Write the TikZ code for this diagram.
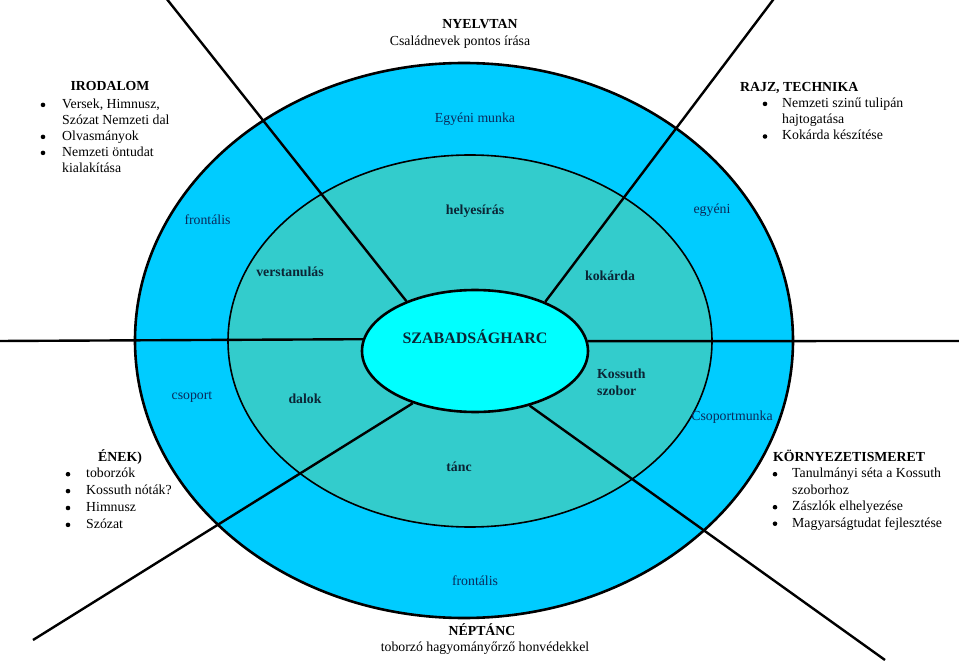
\documentclass[tikz,border=0pt]{standalone}
\usepackage{fontspec}
\setmainfont{Liberation Serif}
\usetikzlibrary{shapes.geometric}
\definecolor{outerblue}{HTML}{00CCFF}
\definecolor{midteal}{HTML}{33CCCC}
\definecolor{innercyan}{HTML}{00FFFF}
\definecolor{ringtext}{HTML}{0A2A5A}
\definecolor{boldtext}{HTML}{0B2535}
\tikzset{
  ringfill/.style={draw=black, line width=#1},
  sepline/.style={draw=black, line width=2.4pt},
  txt/.style={inner sep=0pt, anchor=base, font=\fontsize{13.8}{16}\selectfont},
  ringlbl/.style={txt, text=ringtext},
  boldlbl/.style={txt, text=boldtext, font=\fontsize{13.8}{16}\selectfont\bfseries},
  headlbl/.style={txt, font=\fontsize{13.8}{16}\selectfont\bfseries},
  listblk/.style={inner sep=0pt, anchor=base west},
  bulletdot/.style={fill=black}
}
\begin{document}
\begin{tikzpicture}[x=1pt,y=-1pt]
\useasboundingbox (0,0) rectangle (959,663);
% rings
\fill[outerblue] (464,340.5) ellipse [x radius=329, y radius=277.5];
\draw[ringfill=2.6pt] (464,340.5) ellipse [x radius=329, y radius=277.5];
\fill[midteal] (470,341) ellipse [x radius=242, y radius=186];
\draw[ringfill=1.6pt] (470,341) ellipse [x radius=242, y radius=186];
% centre
\node[ellipse, draw=black, line width=2.6pt, fill=innercyan, inner sep=0pt,
      minimum width=226pt, minimum height=122pt] (centre) at (475,351) {};
\node[txt, text=boldtext, font=\fontsize{16}{18}\selectfont\bfseries] (centrelbl) at (475,343.3) {SZABADSÁGHARC};
% separator end points
\coordinate (ptl) at (166,-2);
\coordinate (ptr) at (774.5,-2);
\coordinate (pbl) at (33,640);
\coordinate (pbr) at (885,660);
\coordinate (pl) at (-2,341);
\coordinate (pr) at (961,341);
\draw[sepline] (ptl) -- (centre.144.7);
\draw[sepline] (ptr) -- (centre.35.8);
\draw[sepline] (pbl) -- (centre.220.6);
\draw[sepline] (pbr) -- (centre.315);
\draw[sepline] (pl) -- (centre.174.9);
\draw[sepline] (pr) -- (centre.5.1);
% labels in outer ring
\node[ringlbl] (egyeni) at (475,122.3) {Egyéni munka};
\node[ringlbl] (frontl) at (207.5,225) {frontális};
\node[ringlbl] (egyr) at (712,214) {egyéni};
\node[ringlbl] (csop) at (192,399.3) {csoport};
\node[ringlbl] (csopm) at (732,420.7) {Csoportmunka};
\node[ringlbl] (frontb) at (475,585) {frontális};
% labels in middle ring
\node[boldlbl] (helyes) at (475,215) {helyesírás};
\node[boldlbl] (verst) at (290,276.7) {verstanulás};
\node[boldlbl] (kokard) at (610,281) {kokárda};
\node[boldlbl] (dalok) at (305,403.3) {dalok};
\node[boldlbl] (tanc) at (459,471.7) {tánc};
\node[boldlbl, anchor=base west] (kossuth) at (597,378.3)
  {\begin{tabular}[t]{@{}l@{}}Kossuth\\[0.7pt]szobor\end{tabular}};
% outside texts
\node[headlbl] (nyelv) at (480,28.5) {NYELVTAN};
\node[txt] (nyelvs) at (460,46) {Családnevek pontos írása};
\node[headlbl] (nept) at (482,635.7) {NÉPTÁNC};
\node[txt] (nepts) at (485,651.7) {toborzó hagyományőrző honvédekkel};
% IRODALOM
\node[headlbl] (irod) at (110,91) {IRODALOM};
\node[listblk, font=\fontsize{13.8}{16}\selectfont] (irodl) at (62,108.4)
  {\begin{tabular}[t]{@{}l@{}}
  Versek, Himnusz,\\
  Szózat Nemzeti dal\\
  Olvasmányok\\
  Nemzeti öntudat\\
  kialakítása
  \end{tabular}};
\foreach \yy in {104.9,136.9,152.9} \fill[bulletdot] (43,\yy) circle[radius=2.3pt];
% RAJZ
\node[headlbl, anchor=base west] (rajz) at (740,91.7) {RAJZ, TECHNIKA};
\node[listblk, font=\fontsize{13.8}{16.3}\selectfont] (rajzl) at (782,107.4)
  {\begin{tabular}[t]{@{}l@{}}
  Nemzeti szinű tulipán\\
  hajtogatása\\
  Kokárda készítése
  \end{tabular}};
\foreach \yy in {103.9,136.5} \fill[bulletdot] (765,\yy) circle[radius=2.3pt];
% ENEK
\node[headlbl] (enek) at (120,461) {ÉNEK)};
\node[listblk, font=\fontsize{13.8}{16.9}\selectfont] (enekl) at (86,477.7)
  {\begin{tabular}[t]{@{}l@{}}
  toborzók\\
  Kossuth nóták?\\
  Himnusz\\
  Szózat
  \end{tabular}};
\foreach \yy in {474.2,491.1,508,524.9} \fill[bulletdot] (68,\yy) circle[radius=2.3pt];
% KORNYEZETISMERET
\node[headlbl, anchor=base west] (korny) at (773,461) {KÖRNYEZETISMERET};
\node[listblk, font=\fontsize{13.8}{16.5}\selectfont] (kornyl) at (792,477.7)
  {\begin{tabular}[t]{@{}l@{}}
  Tanulmányi séta a Kossuth\\
  szoborhoz\\
  Zászlók elhelyezése\\
  Magyarságtudat fejlesztése
  \end{tabular}};
\foreach \yy in {474.2,507.2,523.7} \fill[bulletdot] (775,\yy) circle[radius=2.3pt];
\end{tikzpicture}
\end{document}
